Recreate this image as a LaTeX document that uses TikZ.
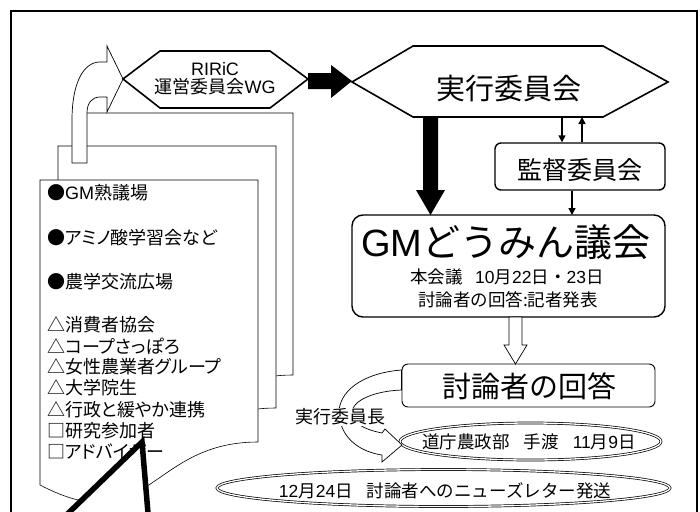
\documentclass[tikz,border=0pt]{standalone}
\usepackage{fontspec}
\setmainfont{Noto Sans CJK JP}
\newfontfamily\lat{Liberation Sans}
\newfontfamily\jpp[Script=CJK, RawFeature=+palt]{Noto Sans CJK JP}
\usetikzlibrary{arrows.meta,shapes.geometric}
\tikzset{
  frameline/.style={line width=1.6pt},
  hexa/.style={draw, line width=1.6pt, fill=white, line join=miter},
  pagebox/.style={draw, line width=0.6pt, fill=white},
  hollow/.style={draw, line width=0.7pt, fill=white, line join=miter},
  solidarrow/.style={fill=black},
  smallarrow/.style={line width=1.5pt, -{Triangle[length=7pt,width=7pt]}},
  roundbox/.style={draw, line width=1.4pt, rounded corners=#1, inner sep=0pt},
  dbl/.style={draw, line width=0.7pt, double, double distance=1.3pt},
  txt/.style={inner sep=0pt, font=\fontsize{#1}{#1}\selectfont},
  listitem/.style={inner sep=0pt, anchor=west, font=\jpp\fontsize{18}{18}\selectfont},
  callout/.style={line width=5.5pt, line join=miter}
}
\newcommand{\docpage}[3]{% left, right, top
  \path[pagebox] (#1,#3) -- (#2,#3) -- (#2,#3+262)
    .. controls ({(#1+#2)/2},#3+262) and ({(#1+#2)/2},#3+362) .. (#1,#3+305) -- cycle;}
\begin{document}
\begin{tikzpicture}[x=1pt,y=-1pt]
\useasboundingbox (0,0) rectangle (700,511);
% outer frame (open at the bottom)
\draw[frameline] (11,520) -- (11,11) -- (697,11) -- (697,520);

% stacked pages
\docpage{75}{293}{113}
\docpage{58}{276}{146}
% bent hollow arrow to RIRiC
\path[hollow] (72,163) -- (72,120) .. controls (72,82) and (84,62) .. (100,62) -- (107,62)
  -- (107,46) -- (123,79) -- (107,112) -- (107,97) -- (100,97)
  .. controls (92,97) and (87,103) .. (87,113) -- (87,163) -- cycle;
\docpage{40}{258}{180}

% list text
\node[listitem] (l1) at (47,193) {●{\lat GM}熟議場};
\node[listitem] (l2) at (47,238) {●アミノ酸学習会など};
\node[listitem] (l3) at (47,282) {●農学交流広場};
\node[listitem] (l4) at (47,325) {△消費者協会};
\node[listitem] (l5) at (47,346) {△コープさっぽろ};
\node[listitem] (l6) at (47,367) {△女性農業者グループ};
\node[listitem] (l7) at (47,388) {△大学院生};
\node[listitem] (l8) at (47,410) {△行政と緩やか連携};
\node[listitem] (l9) at (47,431) {□研究参加者};
\node[listitem] (l10) at (47,452) {□アドバイザー};

% callout pointer
\fill[white] (142,442) -- (56,525) -- (149,525) -- cycle;
\draw[callout] (56,525) -- (142,442) -- (149,525);

% RIRiC hexagon
\path[hexa] (123,79) -- (160,51) -- (270,51) -- (308,79) -- (270,108) -- (160,108) -- cycle;
\node[txt=18, align=center] (riric) at (215,79) {{\lat RIRiC}\\[0pt]運営委員会{\lat WG}};
\coordinate (ririce) at (308,81);

% Jikkou hexagon
\path[hexa] (352,82) -- (413,46) -- (603,46) -- (668,82) -- (603,117) -- (413,117) -- cycle;
\node[txt=29] (jikkou) at (509,89) {実行委員会};
\coordinate (jikkouw) at (352,81);

% thick arrow RIRiC -> Jikkou
\fill[solidarrow] (ririce) ++(0,-8) -- ++(23,0) -- ++(0,-8) -- (jikkouw) -- (331,98) -- (331,89) -- (308,89) -- cycle;

% GM box
\node[roundbox=11pt, minimum width=313pt, minimum height=102pt] (gm) at (508.5,266) {};
\node[txt=38] (gmtitle) at (506,242) {{\lat GM}どうみん議会};
\node[txt=17.5] (gmsub1) at (507,277) {本会議\hspace{0.7em}{\lat 10}月{\lat 22}日・{\lat 23}日};
\node[txt=17.5] (gmsub2) at (508,300) {討論者の回答:記者発表};

% thick down arrow Jikkou -> GM
\coordinate (ja) at (430.5,117);
\coordinate (gmt) at (430.5,215);
\fill[solidarrow] (423,117) -- (438,117) -- (438,190) -- (445,190) -- (gmt) -- (416,190) -- (423,190) -- cycle;

% Kantoku box
\node[roundbox=6pt, minimum width=170pt, minimum height=47pt] (kantoku) at (580,166.5) {};
\node[txt=25] (kantokut) at (580,170) {監督委員会};
\coordinate (k1) at (562,117);
\coordinate (k2) at (582,117);
\coordinate (k3) at (572,215);
\draw[smallarrow] (k1) -- (k1 |- kantoku.north);
\draw[smallarrow] (k2 |- kantoku.north) -- (k2);
\draw[smallarrow] (k3 |- kantoku.south) -- (k3);

% hollow down arrow GM -> answer
\path[hollow] (509,317) -- (522,317) -- (522,345) -- (527,345) -- (515.5,364) -- (504,345) -- (509,345) -- cycle;

% answer box
\node[roundbox=6pt, minimum width=253pt, minimum height=43pt, line width=0.9pt] (answer) at (528.5,385.5) {};
\node[txt=29] (answert) at (529,386) {討論者の回答};

% ellipses
\coordinate (e1) at (530.5,441.5);
\coordinate (e2) at (443.5,488);
\path[dbl] (e1) ellipse [x radius=130.5, y radius=18.5];
\path[dbl] (e2) ellipse [x radius=226.5, y radius=18.5];
\node[txt=17.5] (e1t) at (529,442) {道庁農政部\hspace{0.8em}手渡\hspace{0.8em}{\lat 11}月{\lat 9}日};
\node[txt=17.5] (e2t) at (445,491) {{\lat 12}月{\lat 24}日\hspace{0.8em}討論者へのニューズレター発送};

% curved hollow arrow from answer box to e1
\path[hollow] (answer.west |- 0,370)
  .. controls (362,373) and (338,392) .. (339,414)
  .. controls (341,440) and (362,452) .. (382,455)
  -- (382,462) -- (402,445) -- (385,429) -- (382,433)
  .. controls (362,429) and (352,422) .. (352,413)
  .. controls (352,400) and (375,391) .. (answer.west |- 0,390) -- cycle;
\node[txt=18, fill=white, inner sep=1pt] (chair) at (340,417) {実行委員長};
\end{tikzpicture}
\end{document}
